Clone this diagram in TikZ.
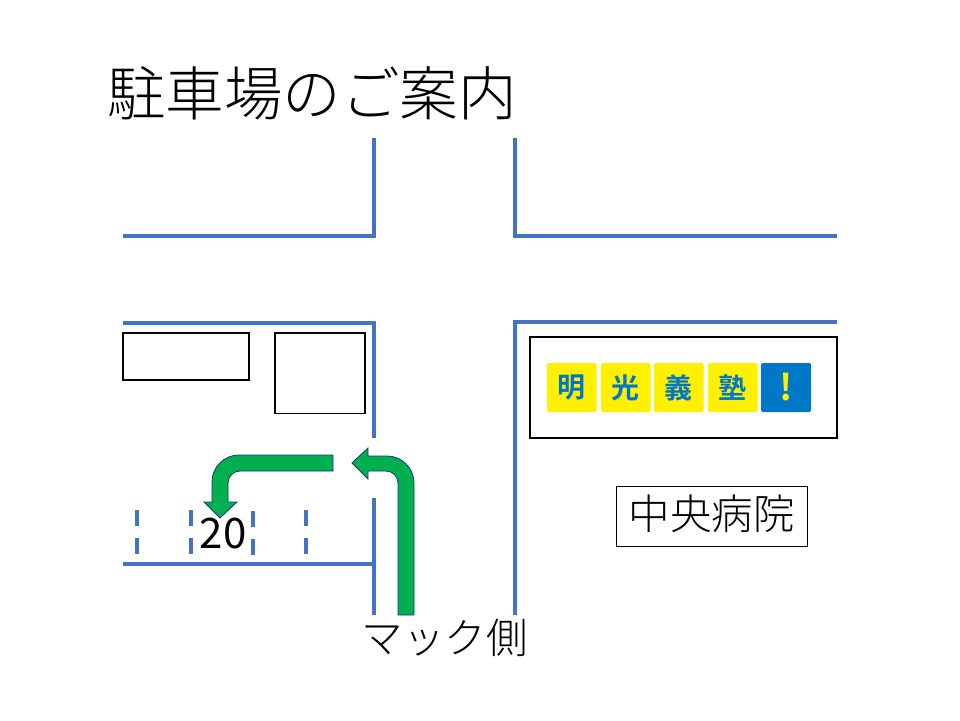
\documentclass[tikz,border=0pt]{standalone}
\usepackage{fontspec}
\setmainfont{Noto Sans CJK JP Light}
\newfontfamily\logofont{Noto Sans CJK JP Bold}
\newfontfamily\numfont{Noto Sans CJK JP}
\definecolor{roadblue}{HTML}{4472C4}
\definecolor{arrowgreen}{HTML}{00B050}
\definecolor{arrowedge}{HTML}{1F3864}
\definecolor{tileyellow}{HTML}{FFF000}
\definecolor{tileblue}{HTML}{0078C8}
\tikzstyle{wall} = [draw=roadblue, line width=3.8pt]
\tikzstyle{park} = [draw=roadblue, line width=3.4pt]
\tikzstyle{box} = [draw, line width=1.5pt]
\tikzstyle{turn} = [fill=arrowgreen, draw=arrowedge, line width=0.8pt]
\tikzstyle{label} = [inner sep=0pt, text=black]
\tikzstyle{tile} = [rounded corners=1.5pt, fill=tileyellow]
\begin{document}
\begin{tikzpicture}[x=1pt, y=-1pt]

\useasboundingbox (0,0) rectangle (960,720);
\fill [white] (0,0) rectangle (960,720);

\node [label, font=\fontsize{58.5}{58.5}\selectfont, anchor=west] (title) at (107,93) {駐車場のご案内};

\draw [wall] (123,236) -- (374,236) -- (374,138);
\draw [wall] (515,138) -- (515,236) -- (837,236);
\draw [wall] (123,323) -- (374,323) -- (374,438);
\draw [wall] (374,498) -- (374,615);
\draw [wall] (123,564) -- (374,564);
\draw [wall] (837,322) -- (515,322) -- (515,615);

\foreach \x/\y in {137/510, 191/510, 253/511, 306/510} {
  \draw [park] (\x,\y) -- ++(0,16);
  \draw [park] (\x,\y+28) -- ++(0,16);
}

\draw [box] (123,333) rectangle (249,380);
\draw [box] (275,333) rectangle (365,413.5);
\draw [box, line width=2.4pt] (530,337) rectangle (837,438);
\node [box, line width=1pt, inner sep=0pt, minimum width=191pt, minimum height=60pt] (hospital) at (711.5,516) {};
\node [label, font=\fontsize{41.5}{41.5}\selectfont] (hospitaltext) at (711.5,513.5) {中央病院};

\foreach \x/\c [count=\i] in {547/明, 601/光, 654/義, 708/塾} {
  \fill [tile] (\x,363) rectangle ++(49.5,49);
  \node [label, text=tileblue, font=\fontsize{28}{28}\logofont] (tile\i) at (\x+24.75,388) {\c};
}
\fill [tile, fill=tileblue] (761,363) rectangle (811,412);
\node [label, text=tileyellow, font=\fontsize{36}{36}\logofont] (tile5) at (786,387) {!};

\draw [turn] (398,615) -- (398,483) arc (0:-90:12 and 12) -- (368,471) -- (368,479) -- (352,463) -- (368,448) -- (368,456) -- (387,456) arc (-90:0:27) -- (414,615) -- cycle;
\draw [turn] (333,455) -- (239,455) arc (-90:-180:27) -- (212,502) -- (204,502) -- (220,518) -- (237,502) -- (228,502) -- (228,483) arc (180:270:12) -- (333,471) -- cycle;

\node [label, font=\fontsize{42}{42}\numfont] (space) at (223,534) {20};
\node [label, font=\fontsize{41.5}{41.5}\selectfont, anchor=west] (mac) at (361.5,638) {マック側};

\end{tikzpicture}
\end{document}
